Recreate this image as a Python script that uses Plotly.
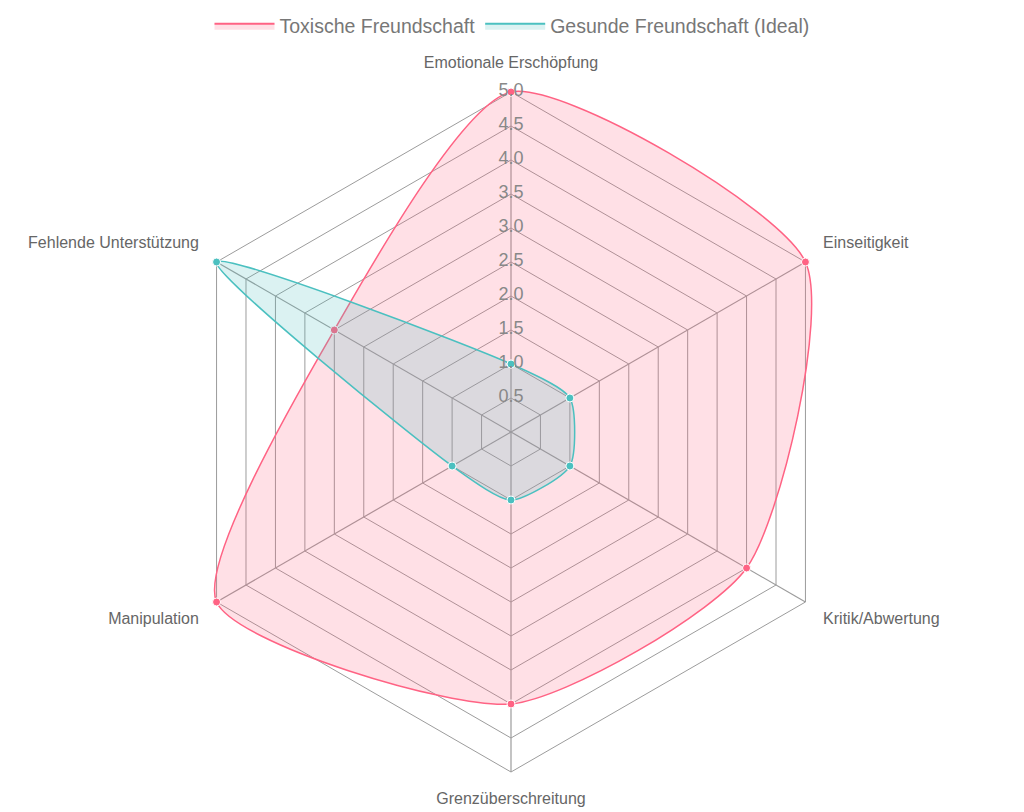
import plotly.graph_objects as go

categories = ["Emotionale Erschöpfung", "Einseitigkeit", "Kritik/Abwertung",
              "Grenzüberschreitung", "Manipulation", "Fehlende Unterstützung"]
toxic = [5, 5, 4, 4, 5, 3]
healthy = [1, 1, 1, 1, 1, 5]
tick_vals = [0.5, 1.0, 1.5, 2.0, 2.5, 3.0, 3.5, 4.0, 4.5, 5.0]
tick_text = ["0.5", "1.0", "1.5", "2.0", "2.5", "3.0", "3.5", "4.0", "4.5", "5.0"]
SCALE_MAX = 5.0

LABEL_R = 5.3
R_MAX = 5.55
label_pos = ["top center", "top right", "bottom right",
             "bottom center", "bottom left", "top left"]

FONT = "Arial, Liberation Sans, sans-serif"
PINK = "rgb(255,99,132)"
PINK_F = "rgba(255,99,132,0.2)"
TEAL = "rgb(75,192,192)"
TEAL_F = "rgba(75,192,192,0.2)"
GRID = "#9c9c9c"


def closed(v):
    return list(v) + [v[0]]


fig = go.Figure()

# spokes (angle lines) from centre to outer ring
for c in categories:
    fig.add_trace(go.Scatterpolar(
        r=[0, SCALE_MAX], theta=[c, c], mode="lines",
        line=dict(color=GRID, width=1.2), showlegend=False, hoverinfo="skip",
    ))

for vals, name, lc, fc in [(toxic, "Toxische Freundschaft", PINK, PINK_F),
                           (healthy, "Gesunde Freundschaft (Ideal)", TEAL, TEAL_F)]:
    fig.add_trace(go.Scatterpolar(
        r=closed(vals), theta=closed(categories), name=name, showlegend=False,
        mode="lines+markers", fill="toself", fillcolor=fc, cliponaxis=False,
        line=dict(color=lc, width=1.5, shape="spline", smoothing=0.65),
        marker=dict(size=8, color=lc, line=dict(color="white", width=1)),
    ))

# legend entries
for name, lc, fc in [("Toxische Freundschaft", PINK, PINK_F),
                     ("Gesunde Freundschaft (Ideal)", TEAL, TEAL_F)]:
    fig.add_trace(go.Scatterpolar(
        r=[None], theta=[categories[0]], name=name, mode="lines", fill="toself",
        fillcolor=fc, line=dict(color=lc, width=2), hoverinfo="skip",
    ))

# radial tick labels along the first spoke
fig.add_trace(go.Scatterpolar(
    r=tick_vals, theta=[categories[0]] * len(tick_vals), text=tick_text,
    mode="text", textposition="middle center", cliponaxis=False,
    textfont=dict(family=FONT, size=18, color="#888"),
    showlegend=False, hoverinfo="skip",
))

# category labels
fig.add_trace(go.Scatterpolar(
    r=[LABEL_R] * len(categories), theta=categories, text=categories,
    mode="text", textposition=label_pos, cliponaxis=False,
    textfont=dict(family=FONT, size=16, color="#666"),
    showlegend=False, hoverinfo="skip",
))

cx, cy, r5 = 511, 432, 340
half = r5 * R_MAX / SCALE_MAX
fig.update_layout(
    width=1024, height=812,
    margin=dict(l=0, r=0, t=0, b=0),
    paper_bgcolor="white",
    font=dict(family=FONT, color="#666"),
    legend=dict(orientation="h", x=0.5, xanchor="center", y=0.992, yanchor="top",
                itemwidth=60, font=dict(size=19.5, color="#777")),
    polar=dict(
        domain=dict(x=[(cx - half) / 1024, (cx + half) / 1024],
                    y=[1 - (cy + half) / 812, 1 - (cy - half) / 812]),
        bgcolor="rgba(0,0,0,0)",
        gridshape="linear",
        radialaxis=dict(range=[0, R_MAX], tickvals=tick_vals, showticklabels=False,
                        ticks="", showline=False, gridcolor=GRID, gridwidth=1.2,
                        angle=90),
        angularaxis=dict(rotation=90, direction="clockwise", showline=False,
                         showgrid=False, ticks="", showticklabels=False),
    ),
)

fig.write_html("out.html")
